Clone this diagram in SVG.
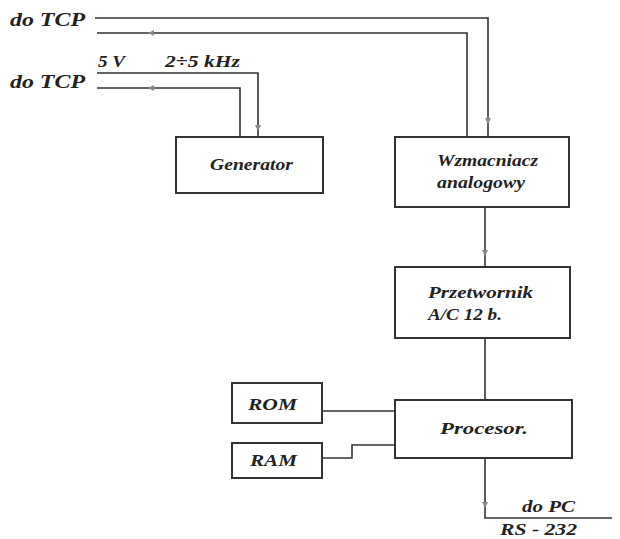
<svg xmlns="http://www.w3.org/2000/svg" width="620" height="539" viewBox="0 0 620 539">
<defs>
<style>
.ln{fill:none;stroke:#333;stroke-width:1.6}
.bx{fill:#fff;stroke:#333;stroke-width:2}
.t{font-family:"Liberation Serif","Times New Roman",serif;font-weight:bold;font-style:italic;fill:#222;font-size:16px}
.big{font-size:18px}
.ar{fill:#888}
</style>
</defs>
<rect width="620" height="539" fill="#fff"/>
<g id="connectors">
<polyline class="ln" points="95,18 488,18 488,137"/>
<polyline class="ln" points="97,33 467,33 467,137"/>
<polyline class="ln" points="97,73 258,73 258,137"/>
<polyline class="ln" points="97,88 240,88 240,137"/>
<line class="ln" x1="485" y1="207" x2="485" y2="267"/>
<line class="ln" x1="485" y1="338" x2="485" y2="400"/>
<line class="ln" x1="322" y1="411" x2="395" y2="411"/>
<polyline class="ln" points="322,458 352,458 352,445 395,445"/>
<polyline class="ln" points="485,458 485,518 612,518"/>
<path class="ar" d="M148,33 l6,-3 v6 z"/>
<path class="ar" d="M148,88 l6,-3 v6 z"/>
<path class="ar" d="M258,131 l-3,-6 h6 z"/>
<path class="ar" d="M488,124 l-3,-6 h6 z"/>
<path class="ar" d="M485,256 l-3,-6 h6 z"/>
<path class="ar" d="M485,508 l-3,-6 h6 z"/>
</g>
<g id="labels">
<text class="t big" x="10" y="26" textLength="75" lengthAdjust="spacingAndGlyphs">do  TCP</text>
<text class="t big" x="10" y="88" textLength="75" lengthAdjust="spacingAndGlyphs">do  TCP</text>
<text class="t" x="98" y="67" textLength="27" lengthAdjust="spacingAndGlyphs">5 V</text>
<text class="t" x="165" y="67" textLength="75" lengthAdjust="spacingAndGlyphs">2÷5 kHz</text>
<text class="t" x="522" y="512" textLength="53" lengthAdjust="spacingAndGlyphs">do PC</text>
<text class="t" x="500" y="535" textLength="77" lengthAdjust="spacingAndGlyphs">RS - 232</text>
</g>
<g id="generator">
<rect class="bx" x="176" y="137" width="147" height="56"/>
<text class="t" x="210" y="170" textLength="83" lengthAdjust="spacingAndGlyphs">Generator</text>
</g>
<g id="wzmacniacz">
<rect class="bx" x="395" y="137" width="174" height="70"/>
<text class="t" x="437" y="166" textLength="101" lengthAdjust="spacingAndGlyphs">Wzmacniacz</text>
<text class="t" x="437" y="188" textLength="88" lengthAdjust="spacingAndGlyphs">analogowy</text>
</g>
<g id="przetwornik">
<rect class="bx" x="395" y="267" width="175" height="71"/>
<text class="t" x="428" y="298" textLength="105" lengthAdjust="spacingAndGlyphs">Przetwornik</text>
<text class="t" x="428" y="320" textLength="74" lengthAdjust="spacingAndGlyphs">A/C 12 b.</text>
</g>
<g id="procesor">
<rect class="bx" x="395" y="400" width="177" height="58"/>
<text class="t" x="440" y="434" textLength="88" lengthAdjust="spacingAndGlyphs">Procesor.</text>
</g>
<g id="rom">
<rect class="bx" x="232" y="383" width="90" height="40"/>
<text class="t" x="248" y="410" textLength="49" lengthAdjust="spacingAndGlyphs">ROM</text>
</g>
<g id="ram">
<rect class="bx" x="232" y="443" width="90" height="35"/>
<text class="t" x="250" y="466" textLength="47" lengthAdjust="spacingAndGlyphs">RAM</text>
</g>
</svg>
